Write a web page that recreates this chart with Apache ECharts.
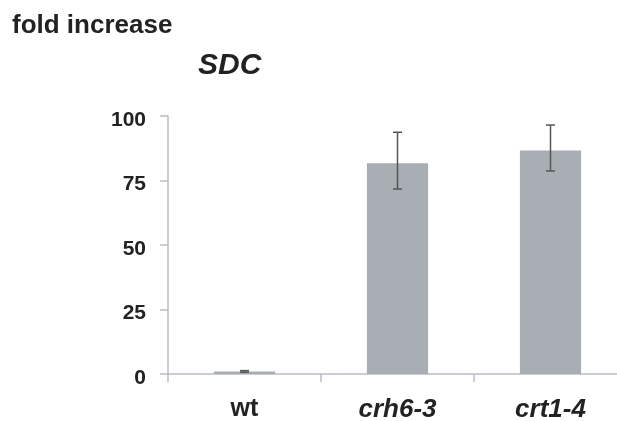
<!DOCTYPE html>
<html>
<head>
<meta charset="utf-8">
<script src="https://cdn.jsdelivr.net/npm/echarts@6/dist/echarts.min.js"></script>
<style>html,body{margin:0;padding:0;background:#fff;overflow:hidden}#c{width:617px;height:421px}</style>
</head>
<body>
<div id="c"></div>
<script>
const categories = ['wt', 'crh6-3', 'crt1-4'];
const means = [1, 81.7, 86.6];
const errLow = [0.7, 71.7, 78.7];
const errHigh = [1.3, 93.7, 96.5];
const yTicks = [0, 25, 50, 75, 100];

const chart = echarts.init(document.getElementById('c'));
const axisColor = '#b9bdc3';
const textColor = '#222';
const ff = '"Liberation Sans", Arial, sans-serif';
chart.setOption({
  animation: false,
  backgroundColor: '#fff',
  graphic: [
    { type: 'text', left: 12, top: 13, style: { text: 'fold increase', font: 'bold 26px ' + ff, fill: textColor } },
    { type: 'text', left: 198, top: 51, style: { text: 'SDC', font: 'italic bold 30px ' + ff, fill: textColor } }
  ],
  grid: { left: 168, top: 116, bottom: 47, width: 459, outerBoundsMode: 'none', containLabel: false },
  xAxis: {
    type: 'category',
    data: categories,
    axisLine: { lineStyle: { color: axisColor, width: 1.5 } },
    axisTick: { show: true, length: 8, lineStyle: { color: axisColor, width: 1.5 } },
    axisLabel: {
      margin: 23,
      color: textColor,
      formatter: function (v) { return v === 'wt' ? '{n|' + v + '}' : '{i|' + v + '}'; },
      rich: {
        n: { fontStyle: 'normal', fontSize: 25, fontWeight: 'bold', fontFamily: ff, color: textColor },
        i: { fontStyle: 'italic', fontSize: 26, fontWeight: 'bold', fontFamily: ff, color: textColor }
      }
    }
  },
  yAxis: {
    type: 'value',
    min: yTicks[0],
    max: yTicks[yTicks.length - 1],
    interval: 25,
    splitLine: { show: false },
    axisLine: { show: true, lineStyle: { color: axisColor, width: 1.5 } },
    axisTick: { show: true, length: 8, lineStyle: { color: axisColor, width: 1.5 } },
    axisLabel: {
      margin: 22,
      color: textColor,
      formatter: function (v) { return '{v|' + v + '}'; },
      rich: { v: { fontSize: 21, fontWeight: 'bold', fontFamily: ff, color: textColor, padding: [8, 0, 0, 0] } }
    }
  },
  series: [
    {
      type: 'bar',
      data: means,
      barWidth: '40%',
      itemStyle: { color: '#a9aeb5' },
      z: 2
    },
    {
      type: 'custom',
      z: 5,
      data: categories.map((c, i) => [i, errLow[i], errHigh[i]]),
      renderItem: function (params, api) {
        const x = api.coord([api.value(0), 0])[0];
        const lo = api.coord([api.value(0), api.value(1)])[1];
        const hi = api.coord([api.value(0), api.value(2)])[1];
        const cap = 4.5;
        const st = { stroke: '#555', lineWidth: 1.5 };
        return {
          type: 'group',
          children: [
            { type: 'line', shape: { x1: x, y1: lo, x2: x, y2: hi }, style: st },
            { type: 'line', shape: { x1: x - cap, y1: lo, x2: x + cap, y2: lo }, style: st },
            { type: 'line', shape: { x1: x - cap, y1: hi, x2: x + cap, y2: hi }, style: st }
          ]
        };
      }
    }
  ]
});
</script>
</body>
</html>
